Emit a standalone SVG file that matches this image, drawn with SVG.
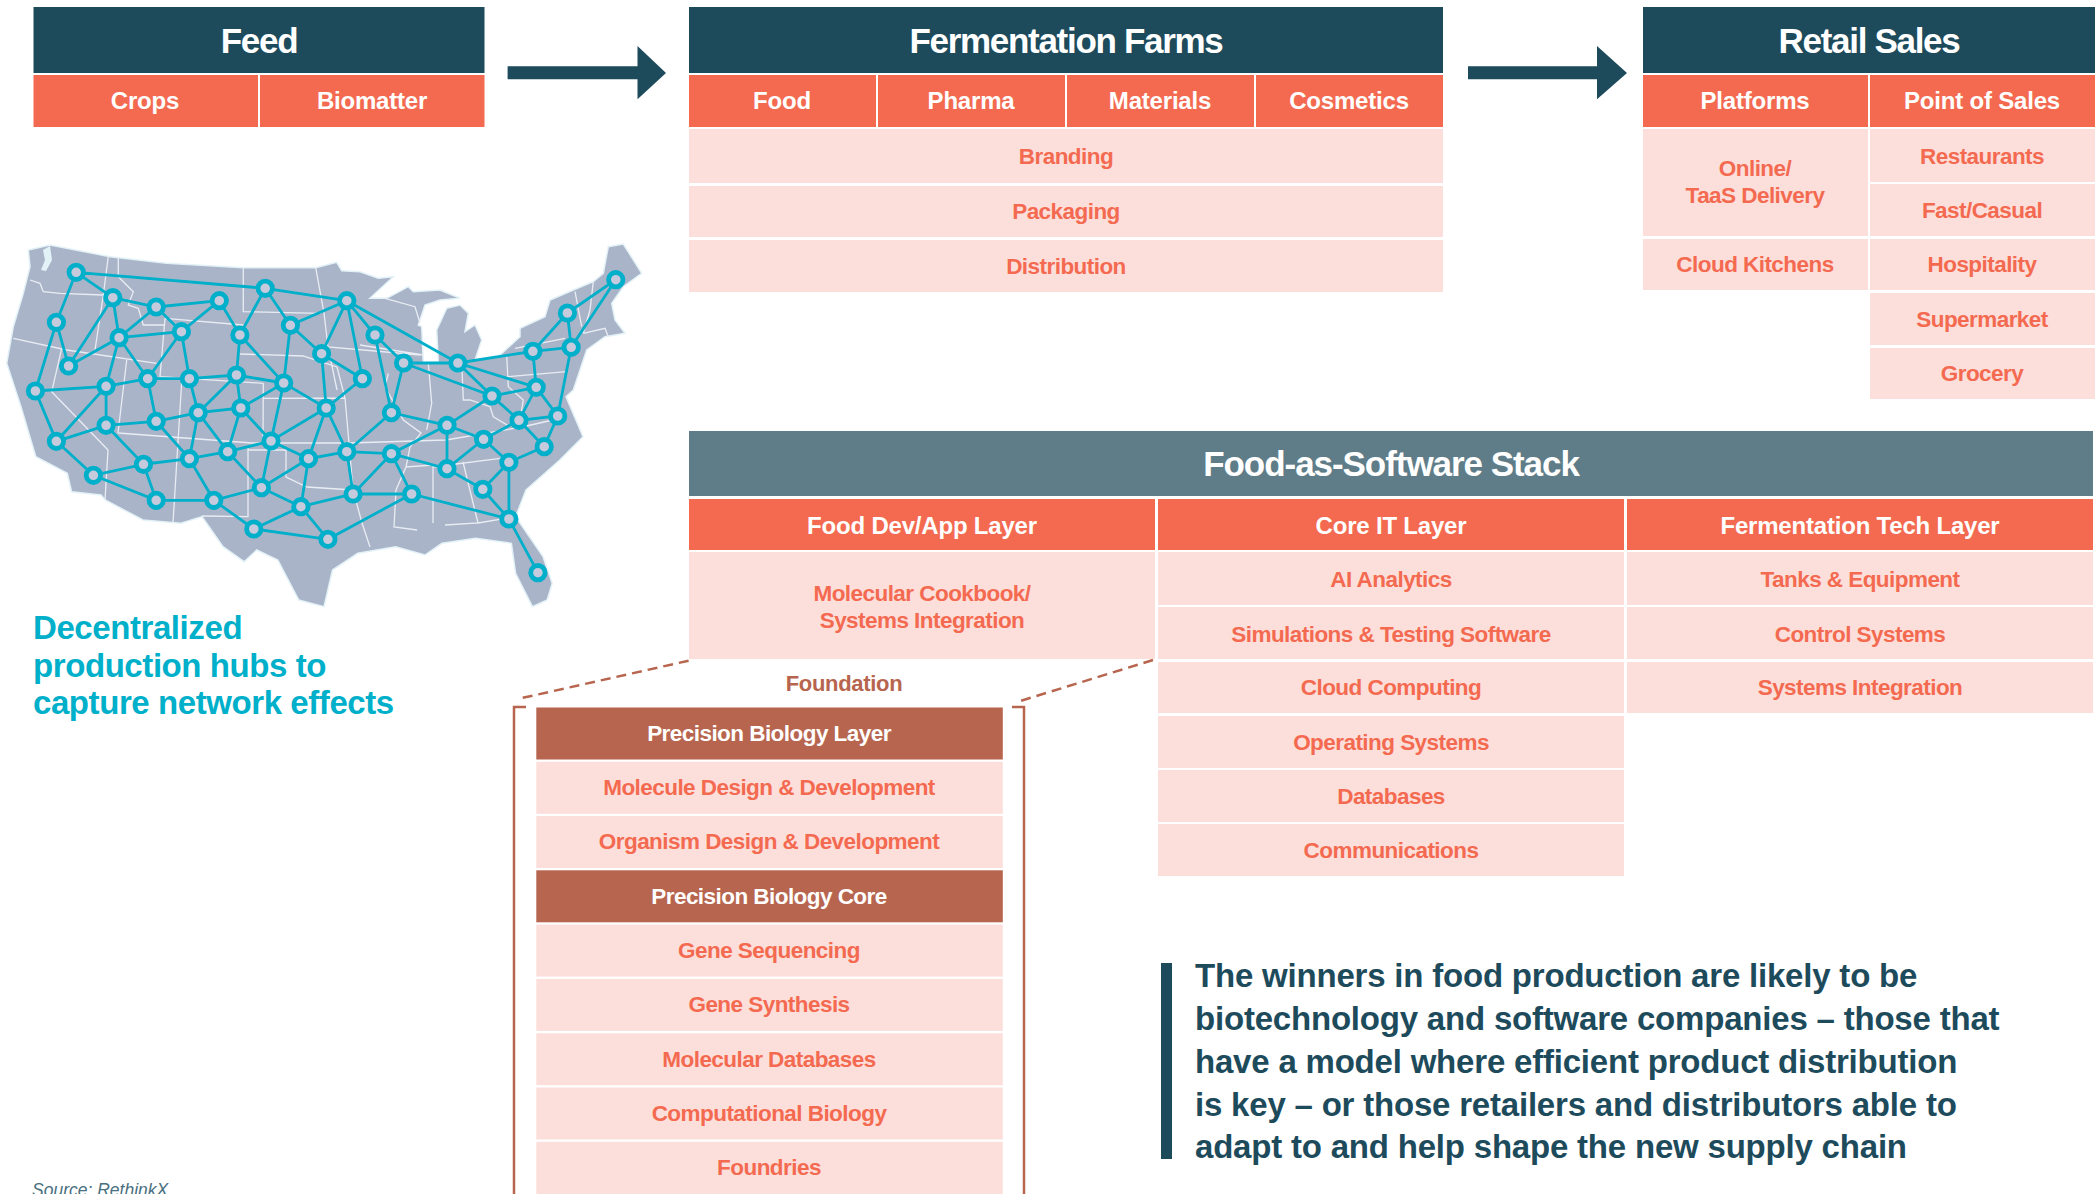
<svg xmlns="http://www.w3.org/2000/svg" width="2098" height="1194" viewBox="0 0 2098 1194">
<style>
text{font-family:"Liberation Sans",Arial,sans-serif;font-weight:700;text-anchor:middle}
.dark{fill:#1d4b5c}.slate{fill:#5f7d88}.coral{fill:#f46a50}.pink{fill:#fcdfdb}.brown{fill:#b7654e}
.h1{font-size:35px;fill:#fff;letter-spacing:-1.3px}
.h2{font-size:24px;fill:#fff;letter-spacing:-.2px}
.t{font-size:22.5px;fill:#f46a50;letter-spacing:-.55px}
.w{font-size:22.5px;fill:#fff;letter-spacing:-.55px}
.teal{font-size:33px;fill:#00afc9;text-anchor:start;letter-spacing:-.42px}
.call{font-size:33px;fill:#1d4b5c;text-anchor:start;letter-spacing:-.2px}
.edge{stroke:#00afc9;stroke-width:2.8;fill:none}
.hub{fill:#c5cadc;stroke:#00afc9;stroke-width:4.8}
.state{fill:none;stroke:#e9edf3;stroke-width:1.3}
.dash{fill:none;stroke:#b7654e;stroke-width:2.5;stroke-dasharray:10 6}
.brk{fill:none;stroke:#b7654e;stroke-width:2.5}
</style>

<g id="map">
<path fill="#a9b4c9" stroke="#e3f2f7" stroke-width="1.5" d="M6.7 363.3L13.3 326.7L23.3 293.3L30 266.7L28.3 250L50 245L110 256.7L166.7 263.3L243.3 267.7L315.7 267.7L336.7 262.3L341.8 270.7L360 271.7L378.3 278.3L393.3 276.7L370 298.3L386.7 298.3L408.3 286.7L413.3 291.7L440 290L460 298.3L440 300L425 305L418.3 325L421.7 326.7L423.3 363.3L438.3 361.7L436.7 330L446.7 308.3L460 305L468.3 313.3L465 331.7L475 325L481.7 340L475 360L500 355L520 336.7L520 328.3L545 316.7L550 300L573.3 290L593.3 281.7L603.3 273.3L608.3 246.7L623.3 244L641.7 273.3L623.3 286.7L611.7 303.3L615 320L625 333.3L605 336.7L586.7 350L580 370L573.3 390L566 396.7L583 436.7L559.8 460L526 490L515.6 516.7L543 556.7L552.2 583.3L547.2 600L532.4 606.7L515.6 573.3L511.4 543.3L475.6 538.3L442 543.3L425 555L395.6 546.7L357.8 553.3L332.5 570L324 606.7L298.8 600L277.8 560L256.7 550L244.1 561.7L223 546.7L202 516.7L181 523.3L143 520L105.2 500L101 495L71.6 491.7L67.3 473.3L35.8 456.7L21 406.7Z"/>
<path fill="#e3f2f7" d="M43 250L50 246L52 260L46 271L41 270L45 260Z"/>
<path class="state" d="M30 280L40 283.3L43.3 291.7L60 293.3L103.3 295M108.3 256L103.3 295L95 350M118.3 257.3L118.3 276.7L133.3 291.7L128.3 305L138.3 308.3L143.3 325L165 325M13.3 338.3L66.7 350L156.7 363.3M165 318.3L160 376.7L263.3 383.3M165 318.3L243.3 325M243.3 267.7L243.3 311.7L321 313.3M240 354L303 356L337 367L345 398L349 443L353 490L362 523L370 547M61.7 348.3L51.7 391.7L108 450L105 500M126.7 360L118 433M181.7 381.7L173 523M263.3 383.3L263 443M263.3 398.3L345 398M118 433L252 443L349 443L446 440L522 427L566 417M248 447L248 516.7L202 516M248 450L286 450L286 477L307 487L353 490M315.7 267.7L324 313L328 347L420 355M360 345L423.3 355M328 347L337 390M385 298.3L415 306.7L420 323M388.3 373.3L385 386.7L403.3 420L421 433L410 447L406 467L433 465L433 523M428.3 363.3L431.7 403.3L426.7 430M461.7 361.7L463.3 400L470 400L490 406.7L493.3 416.7L510 426.7M406 467L396 490L394 527L417 530M463 462L478 523L445 525M433 467L511 457M506.7 355L508.3 386.7L523.3 400L520 420M508.3 376.7L566.7 371.7M515 348.3L565 338.3M575 291.7L581.7 326.7M593.3 281.7L590 310L583.3 333.3M583.3 333.3L605 328.3L608.3 336.7M478 523L515.6 516.7"/>
</g>

<g id="connectors">
<path class="edge" d="M76.2 272.3L265.2 288.3L346.8 300.7M76.2 272.3L112.8 297.7M76.2 272.3L56.4 322.3L68.6 366M56.4 322.3L35.4 391M112.8 297.7L156.2 307L219.3 300.7M112.8 297.7L119.1 337.7M112.8 297.7L68.6 366M156.2 307L119.1 337.7M156.2 307L181.4 331.7L219.3 300.7L239.9 335M265.2 288.3L239.9 335M265.2 288.3L290.4 325.3L346.8 300.7L321.6 353.7M346.8 300.7L375 335M346.8 300.7L362.4 378.7M346.8 300.7L457.9 363M119.1 337.7L181.4 331.7M119.1 337.7L68.6 366M119.1 337.7L106.1 386.3M119.1 337.7L147.7 378.7L181.4 331.7L189.4 378.7M239.9 335L236.5 375M239.9 335L283.7 383M290.4 325.3L321.6 353.7M290.4 325.3L283.7 383M375 335L403.6 363M375 335L391.4 412.7M321.6 353.7L362.4 378.7M321.6 353.7L326.2 408L362.4 378.7M403.6 363L457.9 363L532.9 351.3L571.2 347.3L567.4 313L532.9 351.3L536.2 387.3L457.9 363L492 396L403.6 363L391.4 412.7M571.2 347.3L615.8 279.7L567.4 313M571.2 347.3L557.7 416M35.4 391L106.1 386.3L147.7 378.7L189.4 378.7L236.5 375L283.7 383M35.4 391L56.4 441.3L106.1 386.3L106.1 425.3M147.7 378.7L156.2 421.3M189.4 378.7L198.2 412.7L236.5 375L240.8 408L283.7 383L326.2 408L271 441L283.7 383M536.2 387.3L492 396L519 420.3L536.2 387.3L557.7 416L519 420.3L483.6 439.3M492 396L447 425.3M557.7 416L544.2 446.7L519 420.3M198.2 412.7L240.8 408L271 441M198.2 412.7L156.2 421.3L189.4 458.7L198.2 412.7L227.7 451.7L240.8 408M326.2 408L308.5 458.7M326.2 408L346.8 451.7L391.4 412.7L447 425.3L483.6 439.3L447 468.7L447 425.3L391.4 453.7L447 468.7L482.8 489.3L508.9 462.3L483.6 439.3M56.4 441.3L106.1 425.3L156.2 421.3M56.4 441.3L93.4 475.3L143.5 464.3L106.1 425.3M271 441L227.7 451.7L189.4 458.7L143.5 464.3L156.2 500.3L93.4 475.3M271 441L308.5 458.7L346.8 451.7L391.4 453.7L353.1 494L346.8 451.7M271 441L261.4 487.7L227.7 451.7M544.2 446.7L508.9 462.3L508.9 519L482.8 489.3M189.4 458.7L213.8 500.3L261.4 487.7L308.5 458.7L300.9 506.7L261.4 487.7M391.4 453.7L411.6 494L353.1 494L300.9 506.7L253.8 529L327.9 539.3L411.6 494L508.9 519L537.9 572.7M156.2 500.3L213.8 500.3L253.8 529M300.9 506.7L327.9 539.3"/>
</g>

<g id="hubs">
<circle class="hub" cx="76.2" cy="272.3" r="7.2"/><circle class="hub" cx="112.8" cy="297.7" r="7.2"/><circle class="hub" cx="156.2" cy="307" r="7.2"/><circle class="hub" cx="219.3" cy="300.7" r="7.2"/><circle class="hub" cx="265.2" cy="288.3" r="7.2"/><circle class="hub" cx="346.8" cy="300.7" r="7.2"/><circle class="hub" cx="56.4" cy="322.3" r="7.2"/><circle class="hub" cx="119.1" cy="337.7" r="7.2"/><circle class="hub" cx="181.4" cy="331.7" r="7.2"/><circle class="hub" cx="239.9" cy="335" r="7.2"/><circle class="hub" cx="290.4" cy="325.3" r="7.2"/><circle class="hub" cx="375" cy="335" r="7.2"/><circle class="hub" cx="68.6" cy="366" r="7.2"/><circle class="hub" cx="321.6" cy="353.7" r="7.2"/><circle class="hub" cx="403.6" cy="363" r="7.2"/><circle class="hub" cx="457.9" cy="363" r="7.2"/><circle class="hub" cx="532.9" cy="351.3" r="7.2"/><circle class="hub" cx="571.2" cy="347.3" r="7.2"/><circle class="hub" cx="567.4" cy="313" r="7.2"/><circle class="hub" cx="615.8" cy="279.7" r="7.2"/><circle class="hub" cx="35.4" cy="391" r="7.2"/><circle class="hub" cx="106.1" cy="386.3" r="7.2"/><circle class="hub" cx="147.7" cy="378.7" r="7.2"/><circle class="hub" cx="189.4" cy="378.7" r="7.2"/><circle class="hub" cx="236.5" cy="375" r="7.2"/><circle class="hub" cx="283.7" cy="383" r="7.2"/><circle class="hub" cx="362.4" cy="378.7" r="7.2"/><circle class="hub" cx="536.2" cy="387.3" r="7.2"/><circle class="hub" cx="492" cy="396" r="7.2"/><circle class="hub" cx="557.7" cy="416" r="7.2"/><circle class="hub" cx="519" cy="420.3" r="7.2"/><circle class="hub" cx="198.2" cy="412.7" r="7.2"/><circle class="hub" cx="240.8" cy="408" r="7.2"/><circle class="hub" cx="326.2" cy="408" r="7.2"/><circle class="hub" cx="391.4" cy="412.7" r="7.2"/><circle class="hub" cx="447" cy="425.3" r="7.2"/><circle class="hub" cx="56.4" cy="441.3" r="7.2"/><circle class="hub" cx="106.1" cy="425.3" r="7.2"/><circle class="hub" cx="156.2" cy="421.3" r="7.2"/><circle class="hub" cx="271" cy="441" r="7.2"/><circle class="hub" cx="483.6" cy="439.3" r="7.2"/><circle class="hub" cx="544.2" cy="446.7" r="7.2"/><circle class="hub" cx="189.4" cy="458.7" r="7.2"/><circle class="hub" cx="227.7" cy="451.7" r="7.2"/><circle class="hub" cx="308.5" cy="458.7" r="7.2"/><circle class="hub" cx="346.8" cy="451.7" r="7.2"/><circle class="hub" cx="391.4" cy="453.7" r="7.2"/><circle class="hub" cx="508.9" cy="462.3" r="7.2"/><circle class="hub" cx="447" cy="468.7" r="7.2"/><circle class="hub" cx="143.5" cy="464.3" r="7.2"/><circle class="hub" cx="93.4" cy="475.3" r="7.2"/><circle class="hub" cx="482.8" cy="489.3" r="7.2"/><circle class="hub" cx="261.4" cy="487.7" r="7.2"/><circle class="hub" cx="353.1" cy="494" r="7.2"/><circle class="hub" cx="411.6" cy="494" r="7.2"/><circle class="hub" cx="156.2" cy="500.3" r="7.2"/><circle class="hub" cx="213.8" cy="500.3" r="7.2"/><circle class="hub" cx="300.9" cy="506.7" r="7.2"/><circle class="hub" cx="253.8" cy="529" r="7.2"/><circle class="hub" cx="327.9" cy="539.3" r="7.2"/><circle class="hub" cx="508.9" cy="519" r="7.2"/><circle class="hub" cx="537.9" cy="572.7" r="7.2"/>
</g>

<g id="flow-arrows" class="dark">
<path d="M507.6 66.3H637.5V46L666 73L637.5 99.3V79.3H507.6Z"/>
<path d="M1468 66.3H1597V46L1627 73L1597 99.3V79.3H1468Z"/>
</g>

<g id="feed">
<rect class="dark" x="33.5" y="7" width="451" height="66"/><text class="h1" x="259" y="53">Feed</text>
<rect class="coral" x="33.5" y="75" width="224.5" height="52"/><text class="h2" x="145" y="109">Crops</text>
<rect class="coral" x="260" y="75" width="224.5" height="52"/><text class="h2" x="372" y="109">Biomatter</text>
</g>

<g id="farms">
<rect class="dark" x="689" y="7" width="754" height="66"/><text class="h1" x="1066" y="53">Fermentation Farms</text>
<rect class="coral" x="689" y="75" width="187" height="52"/><text class="h2" x="782" y="109">Food</text>
<rect class="coral" x="878" y="75" width="187" height="52"/><text class="h2" x="971" y="109">Pharma</text>
<rect class="coral" x="1067" y="75" width="187" height="52"/><text class="h2" x="1160" y="109">Materials</text>
<rect class="coral" x="1256" y="75" width="187" height="52"/><text class="h2" x="1349" y="109">Cosmetics</text>
<rect class="pink" x="689" y="129" width="754" height="54"/><text class="t" x="1066" y="164">Branding</text>
<rect class="pink" x="689" y="186" width="754" height="51"/><text class="t" x="1066" y="219">Packaging</text>
<rect class="pink" x="689" y="240" width="754" height="52"/><text class="t" x="1066" y="274">Distribution</text>
</g>

<g id="retail">
<rect class="dark" x="1643" y="7" width="452" height="66"/><text class="h1" x="1869" y="53">Retail Sales</text>
<rect class="coral" x="1643" y="75" width="225" height="52"/><text class="h2" x="1755" y="109">Platforms</text>
<rect class="coral" x="1870" y="75" width="225" height="52"/><text class="h2" x="1982" y="109">Point of Sales</text>
<rect class="pink" x="1643" y="129" width="225" height="107"/><text class="t" x="1755" y="176">Online/</text><text class="t" x="1755" y="203">TaaS Delivery</text>
<rect class="pink" x="1643" y="239" width="225" height="51"/><text class="t" x="1755" y="272">Cloud Kitchens</text>
<rect class="pink" x="1870" y="129" width="225" height="53"/><text class="t" x="1982" y="164">Restaurants</text>
<rect class="pink" x="1870" y="184" width="225" height="52"/><text class="t" x="1982" y="218">Fast/Casual</text>
<rect class="pink" x="1870" y="239" width="225" height="51"/><text class="t" x="1982" y="272">Hospitality</text>
<rect class="pink" x="1870" y="293" width="225" height="52"/><text class="t" x="1982" y="327">Supermarket</text>
<rect class="pink" x="1870" y="348" width="225" height="51"/><text class="t" x="1982" y="381">Grocery</text>
</g>

<g id="stack">
<rect class="slate" x="689" y="431" width="1404" height="65"/><text class="h1" x="1391" y="476" style="letter-spacing:-1.05px">Food-as-Software Stack</text>
<rect class="coral" x="689" y="499" width="466" height="51"/><text class="h2" x="922" y="534">Food Dev/App Layer</text>
<rect class="coral" x="1158" y="499" width="466" height="51"/><text class="h2" x="1391" y="534">Core IT Layer</text>
<rect class="coral" x="1627" y="499" width="466" height="51"/><text class="h2" x="1860" y="534">Fermentation Tech Layer</text>
<rect class="pink" x="689" y="552" width="466" height="107"/><text class="t" x="922" y="601">Molecular Cookbook/</text><text class="t" x="922" y="628">Systems Integration</text>
<rect class="pink" x="1158" y="552" width="466" height="53"/><text class="t" x="1391" y="587">AI Analytics</text>
<rect class="pink" x="1158" y="607" width="466" height="52"/><text class="t" x="1391" y="642">Simulations &amp; Testing Software</text>
<rect class="pink" x="1158" y="662" width="466" height="51"/><text class="t" x="1391" y="695">Cloud Computing</text>
<rect class="pink" x="1158" y="716" width="466" height="52"/><text class="t" x="1391" y="750">Operating Systems</text>
<rect class="pink" x="1158" y="770" width="466" height="52"/><text class="t" x="1391" y="804">Databases</text>
<rect class="pink" x="1158" y="824" width="466" height="52"/><text class="t" x="1391" y="858">Communications</text>
<rect class="pink" x="1627" y="552" width="466" height="53"/><text class="t" x="1860" y="587">Tanks &amp; Equipment</text>
<rect class="pink" x="1627" y="607" width="466" height="52"/><text class="t" x="1860" y="642">Control Systems</text>
<rect class="pink" x="1627" y="662" width="466" height="51"/><text class="t" x="1860" y="695">Systems Integration</text>
</g>

<g id="foundation">
<path class="dash" d="M688.6 660.7L522 698"/>
<path class="dash" d="M1153 660L1017 702"/>
<text x="844" y="691" style="font-size:22px;fill:#b7654e;letter-spacing:-.3px">Foundation</text>
<path class="brk" d="M526 707H514V1194"/>
<path class="brk" d="M1012 707H1024V1194"/>
<rect class="brown" x="536.3" y="707.5" width="466.5" height="52"/><text class="w" x="769" y="741">Precision Biology Layer</text>
<rect class="pink" x="536.3" y="761.8" width="466.5" height="52"/><text class="t" x="769" y="795">Molecule Design &amp; Development</text>
<rect class="pink" x="536.3" y="816" width="466.5" height="52"/><text class="t" x="769" y="849">Organism Design &amp; Development</text>
<rect class="brown" x="536.3" y="870.3" width="466.5" height="52"/><text class="w" x="769" y="904">Precision Biology Core</text>
<rect class="pink" x="536.3" y="924.6" width="466.5" height="52"/><text class="t" x="769" y="958">Gene Sequencing</text>
<rect class="pink" x="536.3" y="978.9" width="466.5" height="52"/><text class="t" x="769" y="1012">Gene Synthesis</text>
<rect class="pink" x="536.3" y="1033.2" width="466.5" height="52"/><text class="t" x="769" y="1067">Molecular Databases</text>
<rect class="pink" x="536.3" y="1087.5" width="466.5" height="52"/><text class="t" x="769" y="1121">Computational Biology</text>
<rect class="pink" x="536.3" y="1141.8" width="466.5" height="52.2"/><text class="t" x="769" y="1175">Foundries</text>
</g>

<g id="hubs-caption">
<text class="teal" x="33" y="639">Decentralized</text>
<text class="teal" x="33" y="677">production hubs to</text>
<text class="teal" x="33" y="714">capture network effects</text>
</g>

<g id="callout">
<rect class="dark" x="1161" y="963" width="11" height="196"/>
<text class="call" x="1195" y="987">The winners in food production are likely to be</text>
<text class="call" x="1195" y="1030">biotechnology and software companies – those that</text>
<text class="call" x="1195" y="1073">have a model where efficient product distribution</text>
<text class="call" x="1195" y="1116">is key – or those retailers and distributors able to</text>
<text class="call" x="1195" y="1158">adapt to and help shape the new supply chain</text>
</g>

<text id="source" x="32" y="1196" style="font-size:17.5px;font-weight:400;font-style:italic;text-anchor:start;fill:#4a7080">Source: RethinkX</text>
</svg>
